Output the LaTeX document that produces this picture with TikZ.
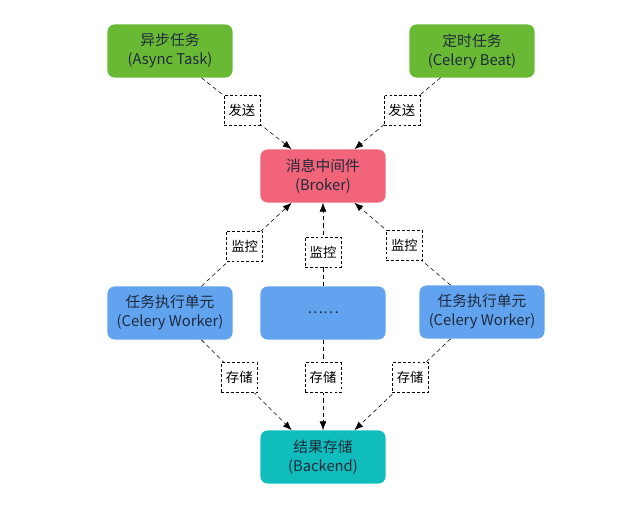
\documentclass[tikz,border=0pt]{standalone}
\usepackage{fontspec}
\setmainfont{Noto Sans CJK SC}
\usepackage{xcolor}
\definecolor{taskgreen}{HTML}{6AB935}
\definecolor{brokerred}{HTML}{F26479}
\definecolor{workerblue}{HTML}{62A3F0}
\definecolor{storeteal}{HTML}{10BDBD}
\definecolor{ink}{HTML}{1E2A3A}
\usetikzlibrary{arrows.meta, calc}

\begin{document}
\begin{tikzpicture}[
  x=0.025cm, y=-0.025cm,
  font=\fontsize{10.5}{13.5}\selectfont,
  box/.style={
    rounded corners=5pt, text=ink, align=center,
    minimum width=3.125cm, minimum height=1.325cm, inner sep=0pt
  },
  tag/.style={
    draw=black, fill=white, dash pattern=on 2pt off 1.5pt,
    font=\fontsize{9.5}{11}\selectfont, inner sep=2pt,
    minimum width=0.9cm, minimum height=0.75cm
  },
  link/.style={
    draw=black, thin, dash pattern=on 3pt off 2.2pt,
    -{Latex[length=2.2mm, width=1.7mm]}
  }
]
  \useasboundingbox (0,0) rectangle (642,510);

  % top row
  \node[box, fill=taskgreen] (async) at (170,51) {异步任务\\(Async Task)};
  \node[box, fill=taskgreen] (beat) at (472,51) {定时任务\\(Celery Beat)};
  \node[box, fill=brokerred] (broker) at (323,176) {消息中间件\\(Broker)};

  % workers
  \node[box, fill=workerblue] (workerL) at (170,313) {任务执行单元\\(Celery Worker)};
  \node[box, fill=workerblue] (dots) at (323,313) {……};
  \node[box, fill=workerblue] (workerR) at (482,312) {任务执行单元\\(Celery Worker)};

  \node[box, fill=storeteal] (backend) at (323,457) {结果存储\\(Backend)};

  % send
  \draw[link] ($(async.south)!.5!(async.south east)$)
    -- node[tag, pos=.45] {发送} ($(broker.north west)!.25!(broker.north east)$);
  \draw[link] ($(beat.south)!.5!(beat.south west)$)
    -- node[tag, pos=.45] {发送} ($(broker.north east)!.25!(broker.north west)$);

  % monitor
  \draw[link] ($(workerL.north)!.5!(workerL.north east)$)
    -- node[tag, pos=.48] {监控} ($(broker.south west)!.25!(broker.south east)$);
  \draw[link] (dots.north) -- node[tag, pos=.41] {监控} (broker.south);
  \draw[link] ($(workerR.north)!.5!(workerR.north west)$)
    -- node[tag, pos=.48] {监控} ($(broker.south east)!.25!(broker.south west)$);

  % store
  \draw[link] ($(workerL.south)!.5!(workerL.south east)$)
    -- node[tag, pos=.42] {存储} ($(backend.north west)!.25!(backend.north east)$);
  \draw[link] (dots.south) -- node[tag, pos=.42] {存储} (backend.north);
  \draw[link] ($(workerR.south)!.5!(workerR.south west)$)
    -- node[tag, pos=.42] {存储} ($(backend.north east)!.25!(backend.north west)$);
\end{tikzpicture}
\end{document}
